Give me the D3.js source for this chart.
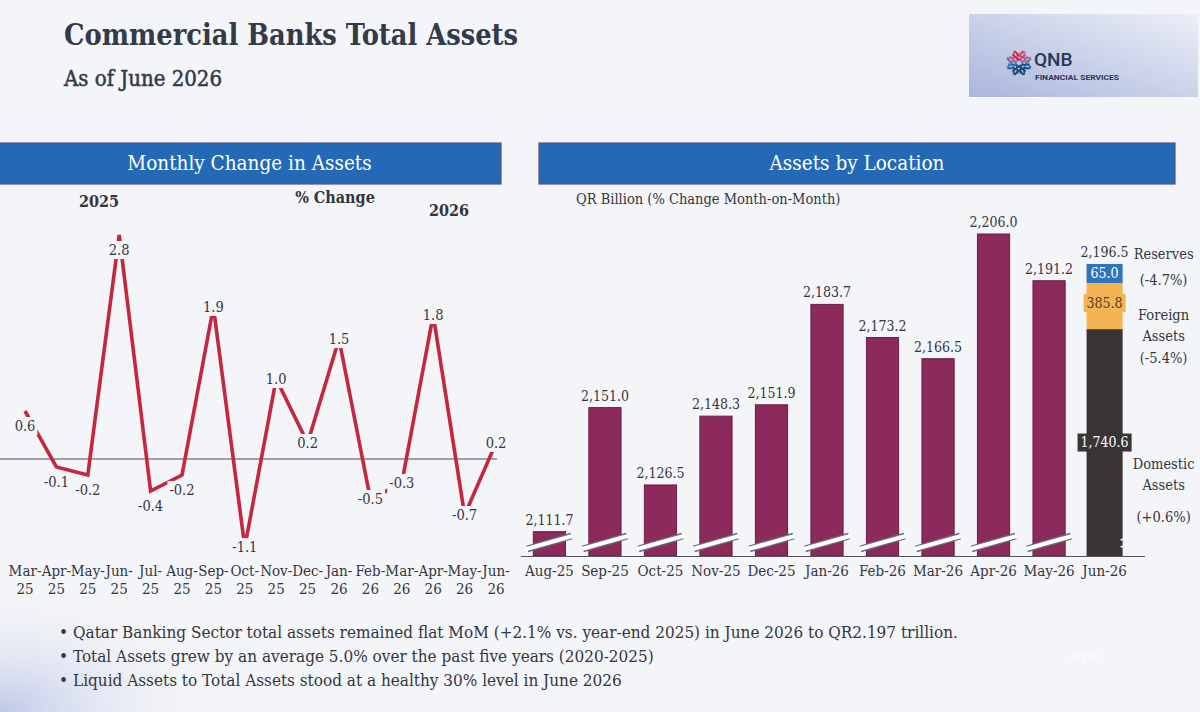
<!DOCTYPE html>
<html>
<head>
<meta charset="utf-8">
<script src="https://cdn.jsdelivr.net/npm/d3@7/dist/d3.min.js"></script>
<style>
  body { margin: 0; background: #f4f5f8; }
</style>
</head>
<body>
<div id="chart"></div>
<script>
// monthly % change in total assets
let changeMonths = ['Mar-25', 'Apr-25', 'May-25', 'Jun-25', 'Jul-25', 'Aug-25', 'Sep-25', 'Oct-25',
  'Nov-25', 'Dec-25', 'Jan-26', 'Feb-26', 'Mar-26', 'Apr-26', 'May-26', 'Jun-26'];
let changeValues = [0.6, -0.1, -0.2, 2.8, -0.4, -0.2, 1.9, -1.1, 1.0, 0.2, 1.5, -0.5, -0.3, 1.8, -0.7, 0.2];

// total assets, QR billion
let assetMonths = ['Aug-25', 'Sep-25', 'Oct-25', 'Nov-25', 'Dec-25', 'Jan-26', 'Feb-26', 'Mar-26',
  'Apr-26', 'May-26', 'Jun-26'];
let assetTotals = [2111.7, 2151.0, 2126.5, 2148.3, 2151.9, 2183.7, 2173.2, 2166.5, 2206.0, 2191.2, 2196.5];

// Jun-26 split by location
let locationNames = [['Domestic', 'Assets'], ['Foreign', 'Assets'], ['Reserves']];
let locationValues = [1740.6, 385.8, 65.0];
let locationChanges = ['(+0.6%)', '(-5.4%)', '(-4.7%)'];

let bullets = [
  'Qatar Banking Sector total assets remained flat MoM (+2.1% vs. year-end 2025) in June 2026 to QR2.197 trillion.',
  'Total Assets grew by an average 5.0% over the past five years (2020-2025)',
  'Liquid Assets to Total Assets stood at a healthy 30% level in June 2026'
];

const width = 1200,
  height = 712;
const bg = '#f4f5f8';
const serif = "'DejaVu Serif Condensed', 'DejaVu Serif', serif";
const ink = '#33363f';

const locale = d3.formatLocale({ decimal: '.', thousands: ',', grouping: [3], currency: ['', ''], minus: '-' });
const fmt1 = locale.format('.1f');
const fmtBig = locale.format(',.1f');

const svg = d3.select('#chart').append('svg')
  .attr('width', width)
  .attr('height', height)
  .style('font-family', serif);

const defs = svg.append('defs');
const corner = defs.append('radialGradient').attr('id', 'corner')
  .attr('cx', 0).attr('cy', 1).attr('r', 0.45);
corner.append('stop').attr('offset', '0%').attr('stop-color', '#bfc9e8').attr('stop-opacity', 1);
corner.append('stop').attr('offset', '100%').attr('stop-color', bg).attr('stop-opacity', 0);
const logoGrad = defs.append('linearGradient').attr('id', 'logo')
  .attr('x1', 0).attr('y1', 1).attr('x2', 1).attr('y2', 0);
logoGrad.append('stop').attr('offset', '0%').attr('stop-color', '#aab6dc');
logoGrad.append('stop').attr('offset', '100%').attr('stop-color', '#eceff7');

svg.append('rect').attr('width', width).attr('height', height).attr('fill', bg);
svg.append('rect').attr('x', 0).attr('y', 420).attr('width', 500).attr('height', 292)
  .attr('fill', 'url(#corner)');

// titles
svg.append('text').attr('x', 64).attr('y', 45)
  .style('font-size', '30px').style('font-weight', 'bold').attr('fill', '#333a48')
  .attr('textLength', 454).attr('lengthAdjust', 'spacingAndGlyphs')
  .text('Commercial Banks Total Assets');
svg.append('text').attr('x', 64).attr('y', 86)
  .style('font-size', '22px').attr('fill', '#333a48')
  .attr('stroke', '#333a48').attr('stroke-width', 0.5)
  .text('As of June 2026');

// logo block
const logo = svg.append('g');
logo.append('rect').attr('x', 969).attr('y', 14).attr('width', 229).attr('height', 83)
  .attr('fill', 'url(#logo)');
const chevronColors = ['#2f7fc1', '#1d4f86', '#1b3f70', '#1d4f86', '#2f7fc1', '#d35a80', '#c8234d', '#d35a80'];
const icon = logo.append('g').attr('transform', 'translate(1019,63)');
icon.selectAll('path')
  .data(chevronColors)
  .enter().append('path')
  .attr('transform', (d, i) => `rotate(${i * 45})`)
  .attr('d', 'M12,-4.5 L7,0 L12,4.5 M8.5,-6.5 L3,0 L8.5,6.5')
  .attr('fill', 'none')
  .attr('stroke', d => d)
  .attr('stroke-width', 1.8);
logo.append('text').attr('x', 1034).attr('y', 66)
  .style('font-family', 'Roboto, sans-serif').style('font-size', '19px').style('font-weight', 500)
  .attr('fill', '#2a3558').text('QNB');
logo.append('text').attr('x', 1035).attr('y', 80)
  .style('font-family', 'Roboto, sans-serif').style('font-size', '8px').style('font-weight', 'bold')
  .attr('textLength', 84).attr('lengthAdjust', 'spacingAndGlyphs')
  .attr('fill', '#2a3558').text('FINANCIAL SERVICES');

// panel headers
function header(x, w, label) {
  svg.append('rect').attr('x', x).attr('y', 143).attr('width', w).attr('height', 41)
    .attr('fill', '#2369b5').attr('stroke', '#5b4f8c').attr('stroke-width', 1.2);
  svg.append('text').attr('x', x + w / 2).attr('y', 170)
    .attr('text-anchor', 'middle').style('font-size', '20.5px').attr('fill', '#fff')
    .text(label);
}
header(-2, 503, 'Monthly Change in Assets');
header(539, 636, 'Assets by Location');

// ---- left: line chart ----
const x = d3.scalePoint().domain(changeMonths).range([25, 496]);
const y = d3.scaleLinear().domain([-1.5, 3]).range([579, 219]);

const left = svg.append('g');
left.append('text').attr('x', 99).attr('y', 207).attr('text-anchor', 'middle')
  .style('font-size', '16px').style('font-weight', 'bold').attr('fill', ink).text('2025');
left.append('text').attr('x', 335).attr('y', 203).attr('text-anchor', 'middle')
  .style('font-size', '16px').style('font-weight', 'bold').attr('fill', ink).text('% Change');
left.append('text').attr('x', 449).attr('y', 216).attr('text-anchor', 'middle')
  .style('font-size', '16px').style('font-weight', 'bold').attr('fill', ink).text('2026');

left.append('line')
  .attr('x1', 0).attr('x2', 497)
  .attr('y1', y(0)).attr('y2', y(0))
  .attr('stroke', '#4a4a55').attr('stroke-width', 1.2);

const line = d3.line()
  .x((d, i) => x(changeMonths[i]))
  .y(d => y(d));

left.append('path')
  .datum(changeValues)
  .attr('d', line)
  .attr('fill', 'none')
  .attr('stroke', '#c3283f')
  .attr('stroke-width', 3.6);

// labels knock out the line; the first six sit just under their point
const lbl = left.selectAll('g.lbl')
  .data(changeValues)
  .enter().append('g')
  .attr('class', 'lbl')
  .attr('transform', (d, i) => `translate(${x(changeMonths[i])},${y(d) + (i < 6 ? 15 : 0)})`);
lbl.append('rect');
lbl.append('text')
  .attr('text-anchor', 'middle')
  .attr('dy', '0.35em')
  .style('font-size', '14.5px')
  .attr('fill', ink)
  .text(d => fmt1(d));
lbl.each(function() {
  const g = d3.select(this);
  const w = g.select('text').node().getComputedTextLength();
  g.select('rect').attr('x', -w / 2 - 2).attr('y', -9).attr('width', w + 4).attr('height', 18)
    .attr('fill', bg);
});

const xl = left.selectAll('text.xl')
  .data(changeMonths)
  .enter().append('text')
  .attr('class', 'xl')
  .attr('text-anchor', 'middle')
  .style('font-size', '15px')
  .attr('fill', ink);
xl.append('tspan').attr('x', d => x(d)).attr('y', 576).text(d => d.split('-')[0] + '-');
xl.append('tspan').attr('x', d => x(d)).attr('y', 594).text(d => d.split('-')[1]);

// ---- right: bar chart with broken axis ----
const xb = d3.scaleBand().domain(assetMonths).range([510, 1144]).padding(0.42);
const yb = d3.scaleLinear().domain([2104, 2206]).range([556, 234]);
const seg = d3.scaleSqrt().domain([0, 400]).range([0, 47]);
const bw = xb.bandwidth();

const right = svg.append('g');
right.append('text').attr('x', 576).attr('y', 204)
  .style('font-size', '14.5px').attr('fill', ink)
  .text('QR Billion (% Change Month-on-Month)');

const plain = assetMonths.slice(0, -1);
const lastMonth = assetMonths[assetMonths.length - 1];
const lastTotal = assetTotals[assetTotals.length - 1];

right.selectAll('rect.bar')
  .data(plain)
  .enter().append('rect')
  .attr('class', 'bar')
  .attr('x', d => xb(d))
  .attr('y', (d, i) => yb(assetTotals[i]))
  .attr('width', bw)
  .attr('height', (d, i) => yb.range()[0] - yb(assetTotals[i]))
  .attr('fill', '#8b2a5b')
  .attr('stroke', '#6a1f45')
  .attr('stroke-width', 1);

// axis break marks
const brk = right.selectAll('g.brk')
  .data(plain)
  .enter().append('g')
  .attr('class', 'brk')
  .attr('transform', d => `translate(${xb(d) + bw / 2},${yb.range()[0] - 14})`);
brk.append('line').attr('x1', -bw / 2 - 6).attr('y1', 7).attr('x2', bw / 2 + 6).attr('y2', -6)
  .attr('stroke', '#6b6a78').attr('stroke-width', 7);
brk.append('line').attr('x1', -bw / 2 - 7).attr('y1', 7).attr('x2', bw / 2 + 7).attr('y2', -6)
  .attr('stroke', '#fff').attr('stroke-width', 4.4);

right.selectAll('text.val')
  .data(assetTotals)
  .enter().append('text')
  .attr('class', 'val')
  .attr('x', (d, i) => xb(assetMonths[i]) + bw / 2)
  .attr('y', d => yb(d) - 7)
  .attr('text-anchor', 'middle')
  .style('font-size', '14px')
  .attr('fill', ink)
  .text(d => fmtBig(d));

// Jun-26 stacked by location
const sw = bw * 1.12;
const sx = xb(lastMonth) + bw / 2 - sw / 2;
const barTop = yb(lastTotal);
const resBottom = barTop + seg(locationValues[2]);
const forBottom = resBottom + seg(locationValues[1]);
const base = yb.range()[0];
const stack = [
  { name: locationNames[0], value: locationValues[0], change: locationChanges[0], y0: forBottom, y1: base, fill: '#3a3436', box: '#3a3436', txt: '#fff' },
  { name: locationNames[1], value: locationValues[1], change: locationChanges[1], y0: resBottom, y1: forBottom, fill: '#f4b454', box: '#f4b454', txt: '#5a3d1c' },
  { name: locationNames[2], value: locationValues[2], change: locationChanges[2], y0: barTop, y1: resBottom, fill: '#2e75bd', box: '#2e75bd', txt: '#fff' }
];

right.selectAll('rect.stack')
  .data(stack)
  .enter().append('rect')
  .attr('class', 'stack')
  .attr('x', sx)
  .attr('y', d => d.y0)
  .attr('width', sw)
  .attr('height', d => d.y1 - d.y0)
  .attr('fill', d => d.fill);

const cx = xb(lastMonth) + bw / 2;
right.append('line').attr('x1', cx + sw / 2 - 2).attr('y1', base - 9).attr('x2', cx + sw / 2 + 4).attr('y2', base - 11)
  .attr('stroke', '#fff').attr('stroke-width', 1.6);
right.append('line').attr('x1', cx + sw / 2 - 2).attr('y1', base - 16).attr('x2', cx + sw / 2 + 4).attr('y2', base - 18)
  .attr('stroke', '#fff').attr('stroke-width', 1.6);

const boxes = right.selectAll('g.box')
  .data(stack)
  .enter().append('g')
  .attr('class', 'box')
  .attr('transform', (d, i) => `translate(${cx},${(d.y0 + d.y1) / 2 - (i === 1 ? 3 : 0)})`);
boxes.append('rect');
boxes.append('text')
  .attr('text-anchor', 'middle')
  .attr('dy', '0.35em')
  .style('font-size', '14px')
  .attr('fill', d => d.txt)
  .text(d => fmtBig(d.value));
boxes.each(function(d) {
  const g = d3.select(this);
  const w = g.select('text').node().getComputedTextLength();
  g.select('rect').attr('x', -w / 2 - 3).attr('y', -9).attr('width', w + 6).attr('height', 18)
    .attr('fill', d.box);
});

// side annotations
const ax = cx + sw / 2 + 41;
const notes = [
  { lines: stack[2].name.concat([stack[2].change]), y: barTop - 5, gap: [26] },
  { lines: stack[1].name.concat([stack[1].change]), y: (stack[1].y0 + stack[1].y1) / 2 + 14, gap: [21, 22] },
  { lines: stack[0].name.concat([stack[0].change]), y: (stack[0].y0 + stack[0].y1) / 2 + 26, gap: [21, 32] }
];
notes.forEach(n => {
  const t = right.append('text').attr('text-anchor', 'middle')
    .style('font-size', '14.5px').attr('fill', ink);
  let yy = n.y;
  n.lines.forEach((s, k) => {
    if (k > 0) yy += n.gap[k - 1];
    t.append('tspan').attr('x', ax).attr('y', yy).text(s);
  });
});

right.append('line')
  .attr('x1', 521).attr('x2', 1145)
  .attr('y1', base + 0.5).attr('y2', base + 0.5)
  .attr('stroke', '#55555f').attr('stroke-width', 1.2);

right.selectAll('text.xb')
  .data(assetMonths)
  .enter().append('text')
  .attr('class', 'xb')
  .attr('x', d => xb(d) + bw / 2)
  .attr('y', 576)
  .attr('text-anchor', 'middle')
  .style('font-size', '15px')
  .attr('fill', ink)
  .text(d => d);

// bullets
const bl = svg.selectAll('g.bullet')
  .data(bullets)
  .enter().append('g')
  .attr('class', 'bullet')
  .attr('transform', (d, i) => `translate(0,${638 + i * 24})`);
bl.append('text').attr('x', 59).style('font-size', '17px').attr('fill', ink).text('\u2022');
bl.append('text').attr('x', 73).style('font-size', '17px').attr('fill', ink).text(d => d);

svg.append('text').attr('x', 1085).attr('y', 661).attr('text-anchor', 'middle')
  .style('font-size', '11px').attr('fill', '#fff').text('(62%)');
</script>
</body>
</html>
